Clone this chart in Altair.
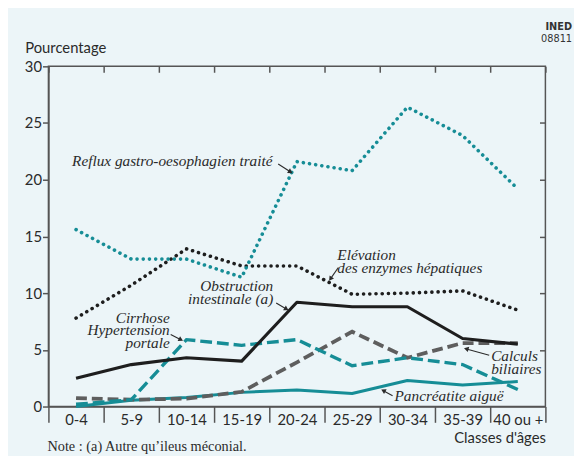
import math
import altair as alt
import pandas as pd

# ---------------- data ----------------
ages = ["0-4", "5-9", "10-14", "15-19", "20-24", "25-29", "30-34", "35-39", "40 ou +"]
reflux = [15.6, 13.0, 13.0, 11.4, 21.6, 20.8, 26.4, 23.9, 19.2]
elevation = [7.8, 10.7, 13.9, 12.4, 12.4, 9.9, 10.0, 10.2, 8.5]
obstruction = [2.5, 3.7, 4.3, 4.0, 9.2, 8.8, 8.8, 6.0, 5.5]
cirrhose = [0.2, 0.6, 5.9, 5.4, 5.9, 3.6, 4.3, 3.7, 1.5]
calculs = [0.75, 0.6, 0.7, 1.3, 3.9, 6.6, 4.3, 5.6, 5.6]
pancreatite = [0.0, 0.55, 0.8, 1.25, 1.45, 1.15, 2.3, 1.9, 2.2]
y_ticks = [0, 5, 10, 15, 20, 25, 30]

# ---------------- styles ----------------
BG = "#ECF5F8"
TEAL = "#168D96"
BLACK = "#1E1E1E"
GRAY = "#5E5E5E"
FRAME = "#555555"
TXT = "#2A2A2A"
SANS = "Lato"
SERIF = "'Liberation Serif', 'Times New Roman', 'DejaVu Serif', serif"
NARROW = "'Liberation Sans Narrow', 'DejaVu Sans Condensed', 'Roboto Condensed', sans-serif"
W, H = 504, 345


def frame(values):
    return pd.DataFrame({"age": ages, "value": values})


xscale = alt.Scale(type="band", domain=ages, paddingInner=0, paddingOuter=0)
yscale = alt.Scale(domain=[0, 30], nice=False, zero=True)


def series(values, axes=False, **mark):
    if axes:
        xa = alt.Axis(title="Classes d'âges", tickBand="extent", tickSize=16,
                      tickColor=FRAME, tickWidth=1.5, domainColor=FRAME,
                      domainWidth=1.5, labelFont=SANS, labelFontSize=15,
                      labelColor=TXT, labelAngle=0, labelBaseline="alphabetic",
                      labelPadding=2, labelOverlap=False, titleFont=SANS,
                      titleFontSize=15, titleFontWeight="normal", titleColor=TXT,
                      titleX=W, titleY=36, titleAlign="right",
                      titleBaseline="alphabetic")
        ya = alt.Axis(title="Pourcentage", values=y_ticks, tickSize=6,
                      tickColor=FRAME, tickWidth=1.5, domainColor=FRAME,
                      domainWidth=1.5, labelFont=SANS, labelFontSize=15,
                      labelColor=TXT, labelPadding=1, titleFont=SANS,
                      titleFontSize=15, titleFontWeight="normal", titleColor=TXT,
                      titleAngle=0, titleX=-24, titleY=-14, titleAlign="left",
                      titleBaseline="alphabetic")
    else:
        xa = None
        ya = None
    return alt.Chart(frame(values)).mark_line(**mark).encode(
        x=alt.X("age:N", sort=ages, scale=xscale, bandPosition=0.5, axis=xa),
        y=alt.Y("value:Q", scale=yscale, axis=ya),
    )


# inner ticks on the top and right sides of the frame
ticks_layer = alt.Chart(frame(reflux)).mark_line(opacity=0).encode(
    x=alt.X("age:N", sort=ages, scale=xscale, bandPosition=0.5,
            axis=alt.Axis(orient="top", offset=-6, tickBand="extent", tickSize=6,
                          tickColor=FRAME, tickWidth=1.5, labels=False,
                          domain=False, title="")),
    y=alt.Y("value:Q", scale=yscale,
            axis=alt.Axis(orient="right", offset=-6, values=[5, 10, 15, 20, 25],
                          tickSize=6, tickColor=FRAME, tickWidth=1.5,
                          labels=False, domain=False, title="")),
)

dots = dict(strokeDash=[0.1, 6.2], strokeCap="round", strokeWidth=3.6, strokeJoin="round")

lines = [
    series(pancreatite, color=TEAL, strokeWidth=3, strokeJoin="round"),
    series(calculs, color=GRAY, strokeWidth=3.8, strokeDash=[11, 5]),
    series(cirrhose, color=TEAL, strokeWidth=3.4, strokeDash=[12, 5]),
    series(obstruction, axes=True, color=BLACK, strokeWidth=3.2, strokeJoin="round"),
    series(elevation, color=BLACK, **dots),
    series(reflux, color=TEAL, **dots),
]


def label(txt, x, y, align="left", font=SERIF, size=15.5, style="italic",
          weight="normal", color=TXT, lh=13.5):
    return alt.Chart().mark_text(
        text=txt, align=align, baseline="alphabetic", font=font, fontSize=size,
        fontStyle=style, fontWeight=weight, color=color, lineHeight=lh,
    ).encode(x=alt.value(x), y=alt.value(y))


def arrow(tail, tip, color=TXT):
    dx, dy = tip[0] - tail[0], tip[1] - tail[1]
    L = math.hypot(dx, dy)
    ux, uy = dx / L, dy / L
    ang = math.degrees(math.atan2(dx, -dy)) % 360
    cx, cy = tip[0] - ux * 2.6, tip[1] - uy * 2.6
    shaft = alt.Chart().mark_rule(color=color, strokeWidth=1.1).encode(
        x=alt.value(tail[0]), y=alt.value(tail[1]),
        x2=alt.value(tip[0] - ux * 3), y2=alt.value(tip[1] - uy * 3))
    head = alt.Chart().mark_point(shape="triangle", filled=True, size=30,
                                  angle=ang, color=color, opacity=1).encode(
        x=alt.value(cx), y=alt.value(cy))
    return [shaft, head]


notes = [
    label("Reflux gastro-oesophagien traité", 24, 101),
    *arrow((233, 99), (247, 108)),
    label(["Elévation", "des enzymes hépatiques"], 293, 196),
    *arrow((294, 204), (285, 217)),
    label(["Obstruction", "intestinale (a)"], 228, 228, align="right"),
    *arrow((231, 240), (243, 247)),
    label(["Cirrhose", "Hypertension", "portale"], 123, 260, align="right", lh=12.8),
    *arrow((124, 272), (136, 278)),
    label(["Calculs", "biliaires"], 449, 299),
    *arrow((447, 293), (422, 286)),
    label("Pancréatite aiguë", 351, 339),
    *arrow((349, 334), (338, 328)),
    label("Note : (a) Autre qu\u2019ileus méconial.", -1, 390, style="normal", size=14.5),
    label("INED", 531, -37, align="right", font=NARROW,
          size=11, style="normal", weight="bold", color="#333"),
    label("08811", 531, -25, align="right", font=NARROW,
          size=11, style="normal", color="#333"),
]

chart = alt.layer(ticks_layer, *lines, *notes).resolve_axis(
    x="independent", y="independent"
).properties(
    width=W, height=H,
    autosize=alt.AutoSizeParams(type="none"),
    padding={"left": 41, "top": 56, "right": 29, "bottom": 47},
    background=BG,
).configure_view(
    stroke=FRAME, strokeWidth=1.5, fill=BG,
).configure_axis(grid=False)

chart.save("out.html", embed_options={"renderer": "svg", "actions": False})
